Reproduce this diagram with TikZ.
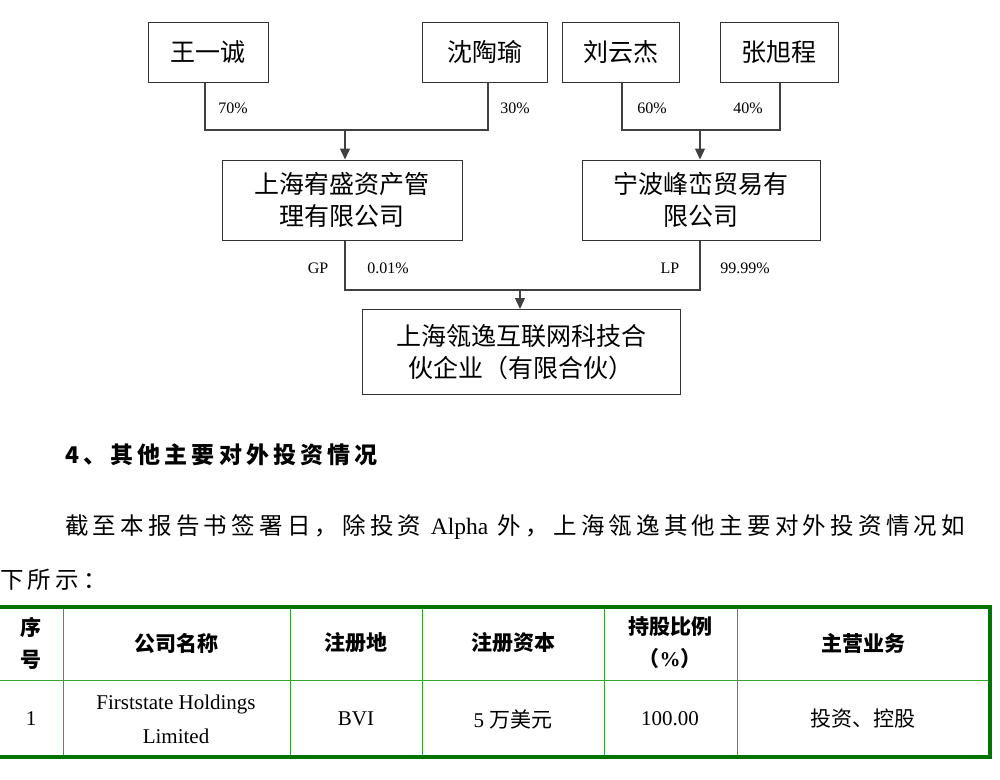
\documentclass[tikz,border=0pt]{standalone}
\usepackage{fontspec}
\setmainfont{Liberation Serif}
\newfontfamily\cjk{Noto Sans CJK SC}
\newfontfamily\cjkw[LetterSpace=18]{Noto Sans CJK SC}
\usetikzlibrary{arrows.meta}
\begin{document}
\begin{tikzpicture}[x=1pt,y=-1pt,
 box/.style={draw=black!80,line width=1pt,minimum height=60pt,align=center,font=\cjk\fontsize{25}{32}\selectfont,inner sep=0pt},
 ln/.style={draw=black!75,line width=1.3pt},
 arr/.style={ln,-{Triangle[length=11pt,width=10pt]}},
 pct/.style={font=\fontsize{16}{18}\selectfont},
 tx/.style={font=\cjkw\fontsize{23.5}{28}\selectfont,anchor=west,inner sep=0pt},
 th/.style={font=\cjk\bfseries\fontsize{21}{32}\selectfont,align=center},
 td/.style={font=\fontsize{21}{32}\selectfont,align=center},
 grid/.style={draw=green!55!black!80,line width=1pt}]
\useasboundingbox (0,0) rectangle (1000,779);
\node[box,minimum width=120pt] (a) at (208,52) {王一诚};
\node[box,minimum width=125pt] (b) at (485,52) {沈陶瑜};
\node[box,minimum width=117pt] (c) at (621,52) {刘云杰};
\node[box,minimum width=118pt] (d) at (779,52) {张旭程};
\node[box,minimum width=240pt,minimum height=80pt] (e) at (342,200) {上海宥盛资产管\\理有限公司};
\node[box,minimum width=238pt,minimum height=80pt] (f) at (701,200) {宁波峰峦贸易有\\限公司};
\node[box,minimum width=318pt,minimum height=85pt] (g) at (521,352) {上海瓴逸互联网科技合\\伙企业（有限合伙）};
\coordinate (j1) at (345,130); \coordinate (j2) at (700,130); \coordinate (j3) at (520,290);
\draw[ln] (a.south -| 205,0) |- (j1) -| (b.south -| 488,0);
\draw[arr] (j1) -- (e.north -| j1);
\draw[ln] (c.south -| 622,0) |- (j2) -| (d.south -| 780,0);
\draw[arr] (j2) -- (f.north -| j2);
\draw[ln] (e.south -| 345,0) |- (j3) -| (f.south -| 700,0);
\draw[arr] (j3) -- (g.north -| j3);
\node[pct] (p1) at (233,108) {70\%};
\node[pct] (p2) at (515,108) {30\%};
\node[pct] (p3) at (652,108) {60\%};
\node[pct] (p4) at (748,108) {40\%};
\node[pct] (p5) at (318,268) {GP};
\node[pct] (p6) at (388,268) {0.01\%};
\node[pct] (p7) at (670,268) {LP};
\node[pct] (p8) at (745,268) {99.99\%};
\node[tx,font=\cjkw\bfseries\fontsize{23}{28}\selectfont] (h) at (65,455) {4、其他主要对外投资情况};
\node[tx] (t1) at (65,527) {截至本报告书签署日，除投资 {\rmfamily Alpha} 外，上海瓴逸其他主要对外投资情况如};
\node[tx] (t2) at (0,580) {下所示：};
% table
\draw[grid] (0,680) -- (990,680);
\foreach \x in {63,290,422,604,737} \draw[grid] (\x,607) -- (\x,757);
\draw[draw=green!45!black,line width=3.5pt] (-2,607) rectangle (990,757);
\node[th] (c1) at (31,643) {序\\号};
\node[th] (c2) at (176,643) {公司名称};
\node[th] (c3) at (356,643) {注册地};
\node[th] (c4) at (513,643) {注册资本};
\node[th] (c5) at (670,643) {持股比例\\（{\rmfamily\%}）};
\node[th] (c6) at (863,643) {主营业务};
\node[td] (r1) at (31,719) {1};
\node[td,font=\fontsize{21}{34}\selectfont] (r2) at (176,719) {Firststate Holdings\\Limited};
\node[td] (r3) at (356,719) {BVI};
\node[td] (r4) at (513,719) {5 {\cjk 万美元}};
\node[td] (r5) at (670,719) {100.00};
\node[td,font=\cjk\fontsize{21}{32}\selectfont] (r6) at (863,719) {投资、控股};
\end{tikzpicture}
\end{document}
